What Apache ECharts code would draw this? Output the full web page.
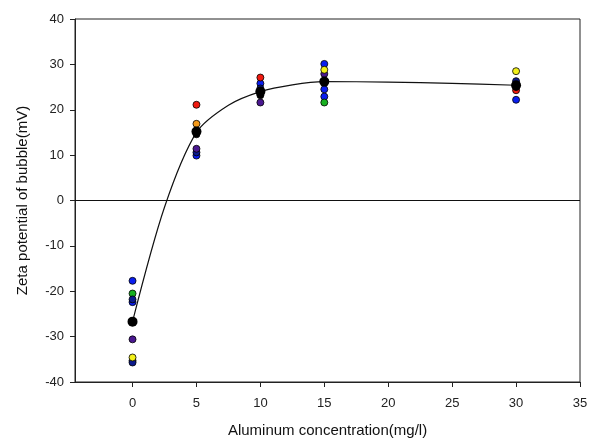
<!DOCTYPE html>
<html>
<head>
<meta charset="utf-8">
<script src="https://cdn.jsdelivr.net/npm/echarts@6/dist/echarts.min.js"></script>
<style>
  body { margin: 0; background: #fff; }
  #chart { width: 589px; height: 440px; }
</style>
</head>
<body>
<div id="chart"></div>
<script>
// x ticks shown on the concentration axis
var xTicks = [0, 5, 10, 15, 20, 25, 30, 35];

// individual measurements, grouped by marker colour
var ptsBlue   = [[0, -17.7], [0, -22.4], [0, -35.3], [5, 9.9], [10, 25.8], [15, 30.1], [15, 24.5], [15, 22.9], [30, 22.2]];
var ptsGreen  = [[0, -20.5], [15, 21.6]];
var ptsNavy   = [[0, -21.8], [0, -35.7], [5, 10.6], [10, 24.7], [30, 26.3]];
var ptsPurple = [[0, -30.6], [5, 11.4], [10, 21.6], [15, 27.9]];
var ptsYellow = [[0, -34.6], [15, 28.8], [30, 28.5]];
var ptsRed    = [[5, 21.1], [10, 27.1], [30, 24.3]];
var ptsOrange = [[5, 16.9]];
var ptsBlack  = [[5, 14.6], [10, 23.2], [30, 25.0]];

// mean values (large black markers)
var means = [[0, -26.7], [5, 15.2], [10, 24.0], [15, 26.2], [30, 25.4]];

// fitted curve
var curve = [[0, -26.7], [2.5, -1.5], [5, 15.0], [7.5, 21.0], [10, 24.0], [12.5, 25.5], [15, 26.2], [20, 26.1], [25, 25.8], [30, 25.4]];

function dots(name, data, color) {
    return {
        name: name,
        type: 'scatter',
        data: data,
        symbolSize: 7,
        itemStyle: { color: color, opacity: 1, borderColor: '#000', borderWidth: 0.8 },
        z: 3
    };
}

var axisTxt = { color: '#222', fontFamily: 'Liberation Sans', fontSize: 13 };

var option = {
    animation: false,
    backgroundColor: '#fff',
    grid: {
        left: 75, right: 9, top: 19, bottom: 58,
        outerBoundsMode: 'none',
        show: true, borderColor: '#222', borderWidth: 1
    },
    xAxis: {
        type: 'value',
        min: -4.5,
        max: 35,
        name: 'Aluminum concentration(mg/l)',
        nameLocation: 'middle',
        nameGap: 41,
        nameTextStyle: { color: '#111', fontFamily: 'Liberation Sans', fontSize: 15 },
        axisLine: { onZero: false, lineStyle: { color: '#222' } },
        axisTick: { customValues: xTicks, length: 5, inside: false, lineStyle: { color: '#222' } },
        axisLabel: Object.assign({ customValues: xTicks, margin: 15 }, axisTxt),
        splitLine: { show: false }
    },
    yAxis: {
        type: 'value',
        min: -40,
        max: 40,
        interval: 10,
        name: 'Zeta potential of bubble(mV)',
        nameLocation: 'middle',
        nameGap: 45,
        nameTextStyle: { color: '#111', fontFamily: 'Liberation Sans', fontSize: 15 },
        axisLine: { onZero: false, lineStyle: { color: '#222' } },
        axisTick: { length: 5, lineStyle: { color: '#222' } },
        axisLabel: Object.assign({ margin: 11 }, axisTxt),
        splitLine: { show: false }
    },
    series: [
        {
            name: 'fit',
            type: 'line',
            data: curve,
            smooth: 0.3,
            showSymbol: false,
            lineStyle: { color: '#111', width: 1.2 },
            z: 2,
            markLine: {
                silent: true,
                symbol: 'none',
                label: { show: false },
                lineStyle: { color: '#111', width: 1, type: 'solid' },
                data: [{ yAxis: 0 }]
            }
        },
        dots('blue', ptsBlue, '#0a1ef0'),
        dots('green', ptsGreen, '#18b020'),
        dots('navy', ptsNavy, '#0c1a8c'),
        dots('purple', ptsPurple, '#4a1890'),
        dots('yellow', ptsYellow, '#f2f01a'),
        dots('red', ptsRed, '#f01a10'),
        dots('orange', ptsOrange, '#f59a1a'),
        dots('black', ptsBlack, '#000'),
        {
            name: 'mean',
            type: 'scatter',
            data: means,
            symbolSize: 10,
            itemStyle: { color: '#000', opacity: 1 },
            z: 4
        }
    ]
};

var myChart = echarts.init(document.getElementById('chart'));
myChart.setOption(option);
</script>
</body>
</html>
